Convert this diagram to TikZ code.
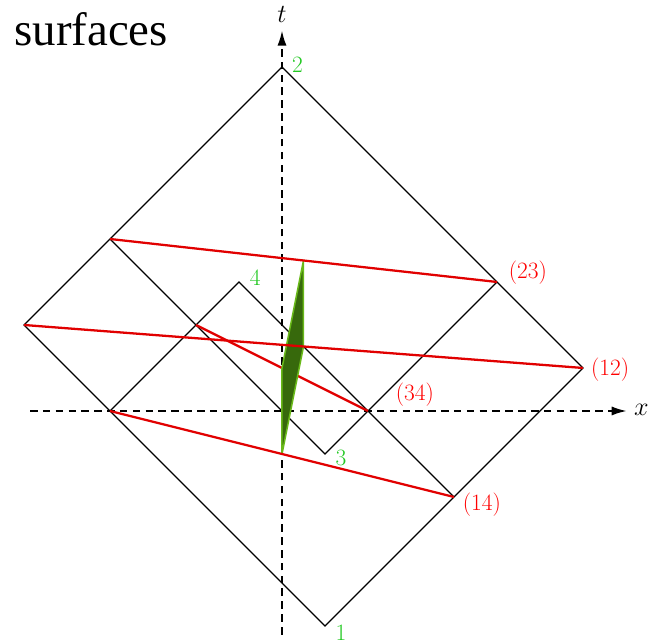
\documentclass[tikz,border=0pt]{standalone}
\usepackage{fontspec}
\newfontfamily\timesfont{Liberation Serif}
\usetikzlibrary{arrows.meta}
\definecolor{ptgreen}{RGB}{34,200,34}
\definecolor{surfdark}{RGB}{55,105,12}
\definecolor{surflight}{RGB}{105,185,25}
\definecolor{redl}{RGB}{225,0,0}
\begin{document}
\begin{tikzpicture}[x=1cm,y=1cm,
  edge/.style={line width=0.9pt, black},
  redline/.style={line width=1.5pt, redl},
  axis/.style={line width=1.3pt, dash pattern=on 5pt off 3.5pt, -{Latex[length=10pt,width=6pt]}},
  ptlabel/.style={text=ptgreen, font=\fontsize{15.5}{18}\selectfont, inner sep=0pt},
  redlabel/.style={text=red, font=\fontsize{15.5}{18}\selectfont, inner sep=0pt},
  axlabel/.style={font=\fontsize{17}{20}\selectfont, inner sep=0pt}]
\useasboundingbox (-6.558,-5.395) rectangle (8.605,9.558);
% points
\coordinate (p1) at (1,-5);
\coordinate (p2) at (0,8);
\coordinate (p3) at (1,-1);
\coordinate (p4) at (-1,3);
\coordinate (L) at (-6,2);
\coordinate (R) at (7,1);
\coordinate (A) at (-4,4);
\coordinate (B) at (5,3);
\coordinate (C) at (-4,0);
\coordinate (D) at (4,-2);
\coordinate (E) at (-2,2);
\coordinate (F) at (2,0);
% axes
\coordinate (tb) at (0,-5.2);
\coordinate (tt) at (0,8.85);
\coordinate (xl) at (-5.86,0);
\coordinate (xr) at (8.02,0);
\draw[axis] (tb) -- (tt);
\draw[axis] (xl) -- (xr);
\node[axlabel] (tlab) at (0,9.22) {$t$};
\node[axlabel] (xlab) at (8.36,0.02) {$x$};
% black light-cone lines
\draw[edge] (p1) -- (L) -- (p2) -- (R) -- cycle;
\draw[edge] (A) -- (p3) -- (B);
\draw[edge] (C) -- (p4) -- (D);
% red line behind the surface
\draw[redline] (E) -- (F);
% green surface
\coordinate (g1) at (0,-1);
\coordinate (g2) at (0.5,1.5);
\coordinate (g3) at (0.5,3.5);
\coordinate (g4) at (0,1);
\filldraw[fill=surfdark, draw=surflight, line width=1pt, line join=round] (g1) -- (g2) -- (g3) -- (g4) -- cycle;
% red lines in front
\draw[redline] (A) -- (B);
\draw[redline] (L) -- (R);
\draw[redline] (C) -- (D);
% labels
\node[ptlabel] (l1) at (1.37,-5.16) {1};
\node[ptlabel] (l2) at (0.36,8.05) {2};
\node[ptlabel] (l3) at (1.37,-1.09) {3};
\node[ptlabel] (l4) at (-0.62,3.09) {4};
\node[redlabel] (r23) at (5.72,3.21) {(23)};
\node[redlabel] (r12) at (7.63,0.95) {(12)};
\node[redlabel] (r14) at (4.65,-2.19) {(14)};
\node[redlabel] (r34) at (3.09,0.37) {(34)};
\node[anchor=base west, font=\timesfont\fontsize{31}{35}\selectfont, inner sep=0pt] (title) at (-6.23,8.51) {surfaces};
\end{tikzpicture}
\end{document}
